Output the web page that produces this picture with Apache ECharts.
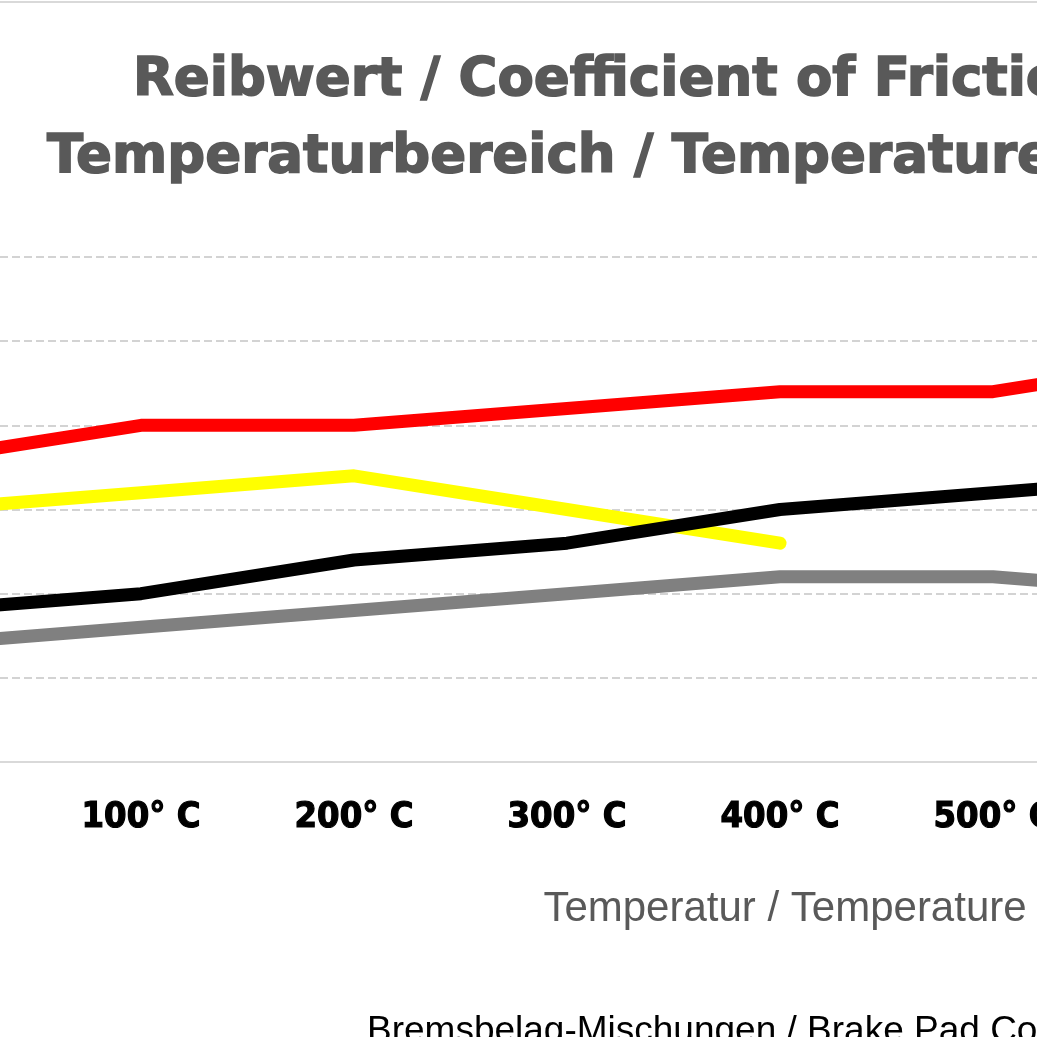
<!DOCTYPE html>
<html>
<head>
<meta charset="utf-8">
<script src="https://cdn.jsdelivr.net/npm/echarts@6/dist/echarts.min.js"></script>
<style>
  html, body { margin: 0; padding: 0; overflow: hidden; background: #fff; }
  #frame { position: relative; width: 1037px; height: 1037px; overflow: hidden; }
  /* the chart is wider than the visible frame, like the cropped original */
  #chart { position: absolute; left: -300px; top: 0; width: 1800px; height: 1037px; }
</style>
</head>
<body>
<div id="frame"><div id="chart"></div></div>
<script>
  // temperatures along the x axis
  var temps = ['0° C', '100° C', '200° C', '300° C', '400° C', '500° C', '600° C', '700° C'];
  // friction coefficient per compound
  var redVals    = [0.56, 0.60, 0.60, 0.62, 0.64, 0.64, 0.68, 0.70];
  var yellowVals = [0.50, 0.52, 0.54, 0.50, 0.46, null, null, null];
  var blackVals  = [0.38, 0.40, 0.44, 0.46, 0.50, 0.52, 0.54, 0.56];
  var greyVals   = [0.34, 0.36, 0.38, 0.40, 0.42, 0.42, 0.40, 0.40];
  var yTicks = { min: 0.2, max: 0.8, step: 0.1 };

  var shift = 300; // offset of the chart div to the left of the frame

  function makeLine(name, data, color) {
    return {
      name: name,
      type: 'line',
      data: data,
      showSymbol: false,
      symbol: 'none',
      connectNulls: false,
      lineStyle: { color: color, width: 13, cap: 'round', join: 'round' },
      itemStyle: { color: color },
      emphasis: { disabled: true },
      animation: false
    };
  }

  var titleStyle = {
    fill: '#595959', font: "bold 53px 'DejaVu Sans', sans-serif",
    stroke: '#595959', lineWidth: 1.6,
    lineHeight: 53, align: 'left', verticalAlign: 'top'
  };

  var myChart = echarts.init(document.getElementById('chart'));
  var option = {
    animation: false,
    backgroundColor: '#fff',
    grid: {
      left: 228, right: 81, top: 257, bottom: 275,
      containLabel: false, outerBoundsMode: 'none'
    },
    xAxis: {
      type: 'category',
      data: temps,
      boundaryGap: false,
      axisLine: { show: true, lineStyle: { color: '#d9d9d9', width: 2 } },
      axisTick: { show: false },
      axisLabel: {
        margin: 38,
        color: '#000',
        fontSize: 36,
        lineHeight: 36,
        fontWeight: 'bold',
        textBorderColor: '#000',
        textBorderWidth: 1.2,
        fontFamily: "'Liberation Sans Narrow', 'DejaVu Sans Condensed', sans-serif"
      },
      splitLine: { show: false }
    },
    yAxis: {
      type: 'value',
      min: yTicks.min,
      max: yTicks.max,
      interval: yTicks.step,
      axisLine: { show: false },
      axisTick: { show: false },
      axisLabel: { color: '#595959', fontSize: 28, formatter: function (v) { return v.toFixed(1); } },
      splitLine: { lineStyle: { color: '#d3d3d3', width: 2, type: [8, 4] } }
    },
    series: [
      makeLine('Rot', redVals, '#ff0000'),
      makeLine('Grau', greyVals, '#808080'),
      makeLine('Gelb', yellowVals, '#ffff00'),
      makeLine('Schwarz', blackVals, '#000000')
    ],
    graphic: [
      {
        type: 'rect', silent: true, z: -1,
        shape: { x: 100, y: 2, width: 1680, height: 1100 },
        style: { fill: 'none', stroke: '#d9d9d9', lineWidth: 2 }
      },
      {
        type: 'text', x: 133 + shift, y: 55, silent: true,
        style: Object.assign({ text: 'Reibwert / Coefficient of Friction' }, titleStyle)
      },
      {
        type: 'text', x: 47 + shift, y: 132, silent: true,
        style: Object.assign({ text: 'Temperaturbereich / Temperature range' }, titleStyle)
      },
      {
        type: 'text', x: 785 + shift, y: 888, silent: true,
        style: {
          text: 'Temperatur / Temperature',
          fill: '#595959', font: "42px 'Liberation Sans', Arial, sans-serif",
          lineHeight: 42, align: 'center', verticalAlign: 'top'
        }
      },
      {
        type: 'text', x: 367 + shift, y: 1013, silent: true,
        style: {
          text: 'Bremsbelag-Mischungen / Brake Pad Compounds',
          fill: '#000', font: "37px 'Liberation Sans', Arial, sans-serif",
          lineHeight: 37, align: 'left', verticalAlign: 'top'
        }
      }
    ]
  };
  myChart.setOption(option);
</script>
</body>
</html>
